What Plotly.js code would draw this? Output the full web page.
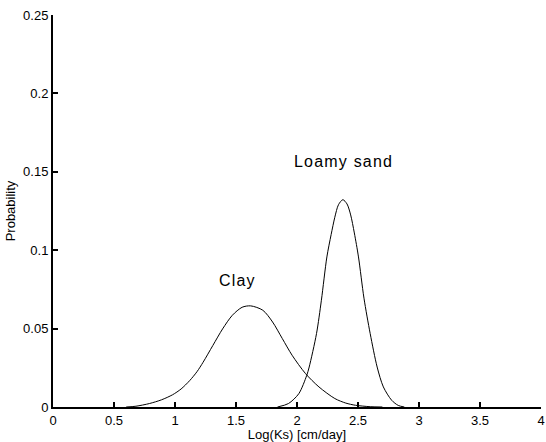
<!DOCTYPE html>
<html>
<head>
<meta charset="utf-8">
<script src="https://cdn.plot.ly/plotly-3.0.1.min.js"></script>
<style>html,body{margin:0;padding:0;background:#fff;}#chart{width:546px;height:442px;}</style>
</head>
<body>
<div id="chart"></div>
<script>
// Clay curve
const clayX = [0.60, 0.68, 0.79, 0.89, 0.98, 1.05, 1.12, 1.18, 1.23, 1.31, 1.39, 1.47, 1.55, 1.62, 1.72, 1.80, 1.88, 1.96, 2.07, 2.18, 2.31, 2.40, 2.48, 2.60, 2.70];
const clayY = [0.0000, 0.0005, 0.0022, 0.0046, 0.0078, 0.0115, 0.0168, 0.0225, 0.0285, 0.0392, 0.0498, 0.0585, 0.0636, 0.0645, 0.0617, 0.0542, 0.0436, 0.0330, 0.0213, 0.0128, 0.0054, 0.0025, 0.0011, 0.0002, 0.0000];
// Loamy sand curve
const sandX = [1.84, 1.93, 2.015, 2.08, 2.10, 2.16, 2.20, 2.245, 2.28, 2.31, 2.34, 2.376, 2.41, 2.44, 2.47, 2.504, 2.549, 2.60, 2.657, 2.708, 2.776, 2.83, 2.88];
const sandY = [0.0000, 0.0022, 0.0085, 0.0202, 0.0255, 0.0468, 0.0681, 0.0957, 0.1100, 0.1210, 0.1290, 0.1322, 0.1295, 0.1225, 0.1110, 0.0957, 0.0694, 0.0468, 0.0255, 0.0128, 0.0043, 0.0010, 0.0000];
// Labels
const labelText = ["Clay", "Loamy sand"];
const labelX = [1.51, 2.38];
const labelY = [0.0808, 0.1563];

const font = "Liberation Sans, Arial, Helvetica, sans-serif";
const traces = [
  {x: clayX, y: clayY, mode: "lines", line: {color: "#000", width: 1, shape: "spline", smoothing: 0.8}, hoverinfo: "skip"},
  {x: sandX, y: sandY, mode: "lines", line: {color: "#000", width: 1, shape: "spline", smoothing: 0.8}, hoverinfo: "skip"}
];
const layout = {
  width: 546, height: 442,
  margin: {l: 53, r: 5, t: 15, b: 35},
  paper_bgcolor: "#fff", plot_bgcolor: "#fff",
  showlegend: false,
  font: {family: font, size: 13, color: "#000"},
  xaxis: {
    range: [0, 4.0001], dtick: 0.5, tick0: 0,
    showgrid: false, zeroline: false,
    showline: true, linecolor: "#000", linewidth: 2,
    ticks: "inside", ticklen: 5, tickwidth: 2, tickcolor: "#000",
    ticklabeloverflow: "allow",
    tickfont: {family: font, size: 13, color: "#000"},
    title: {text: "Log(Ks) [cm/day]", font: {family: font, size: 13, color: "#000"}, standoff: 2},
    automargin: false, fixedrange: true
  },
  yaxis: {
    range: [0, 0.25], dtick: 0.05, tick0: 0,
    showgrid: false, zeroline: false,
    showline: true, linecolor: "#000", linewidth: 2,
    ticks: "inside", ticklen: 5, tickwidth: 2, tickcolor: "#000",
    tickfont: {family: font, size: 13, color: "#000"},
    title: {text: "Probability", font: {family: font, size: 13, color: "#000"}, standoff: 5},
    automargin: false, fixedrange: true
  },
  annotations: labelText.map((t, i) => ({
    x: labelX[i], y: labelY[i], xref: "x", yref: "y",
    text: '<span style="letter-spacing:1.2px">' + t + '</span>', showarrow: false,
    font: {family: font, size: 16, color: "#000"}
  }))
};
Plotly.newPlot("chart", traces, layout, {displayModeBar: false, staticPlot: true});
</script>
</body>
</html>
